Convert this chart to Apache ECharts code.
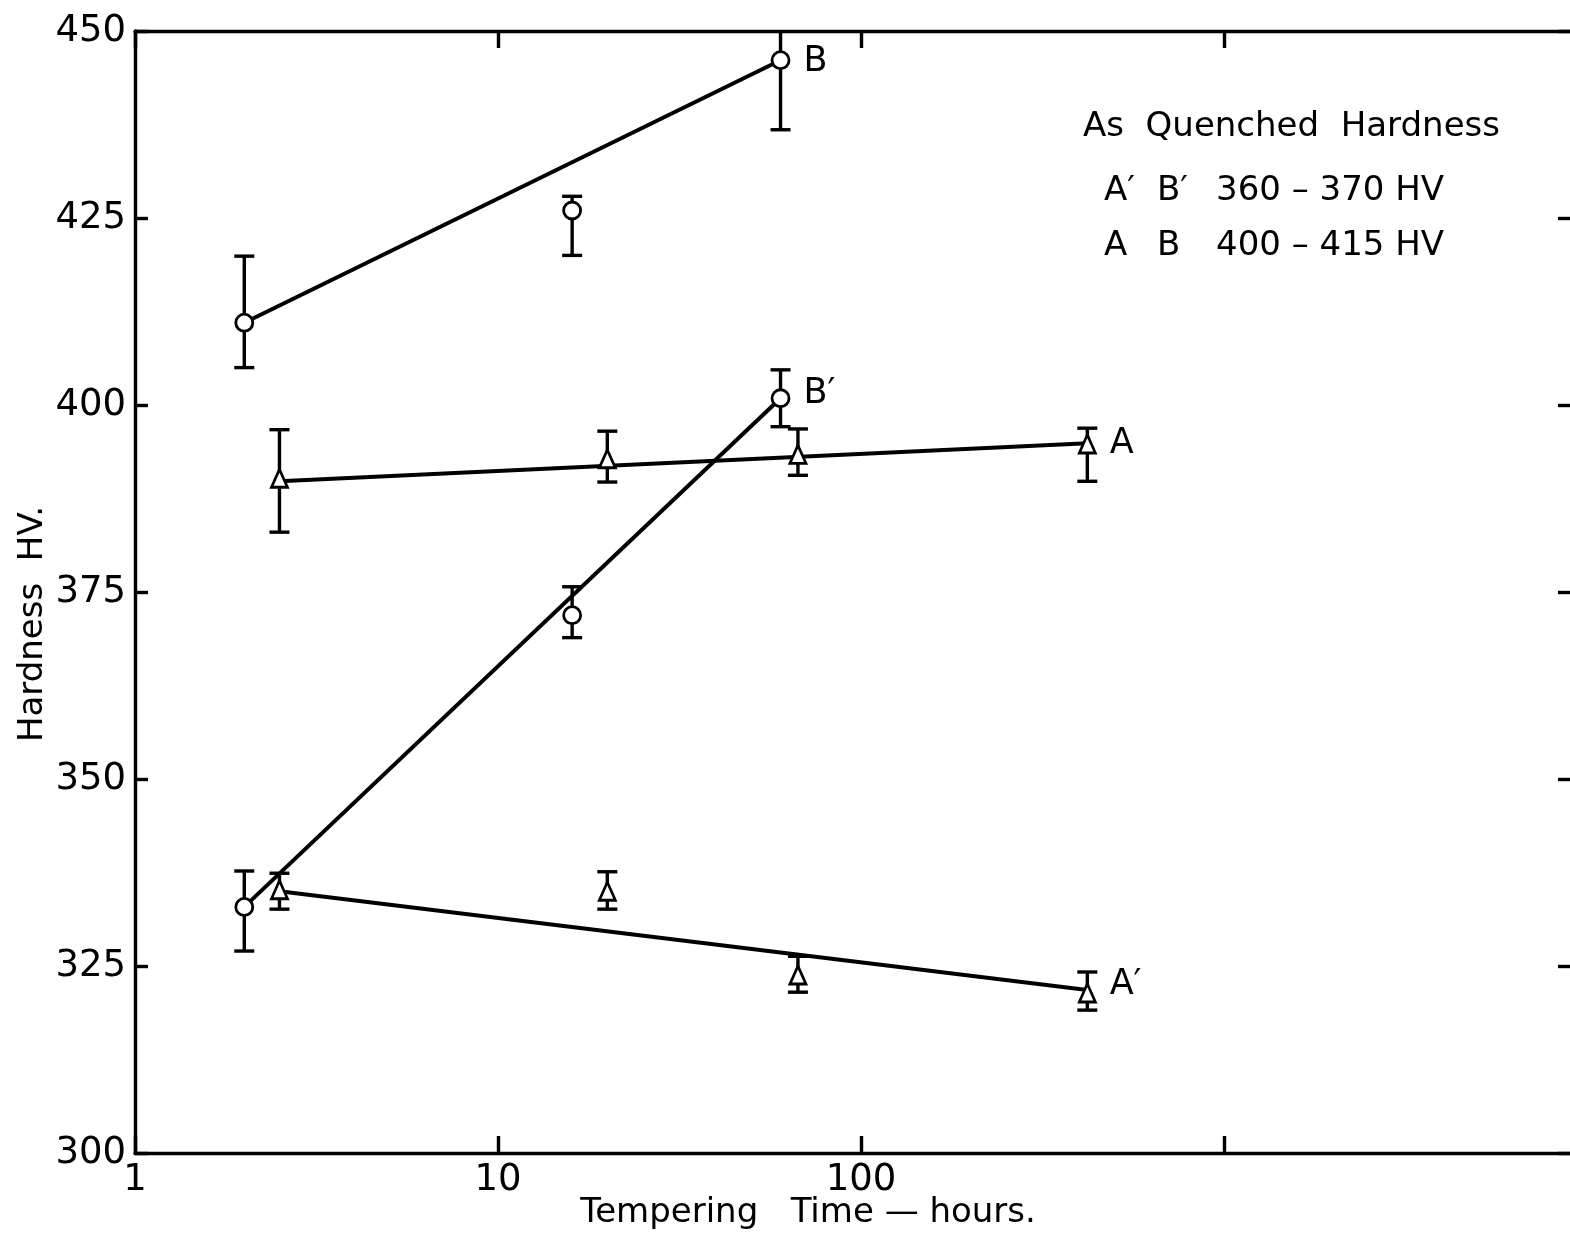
<!DOCTYPE html>
<html>
<head>
<meta charset="utf-8">
<script src="https://cdn.jsdelivr.net/npm/echarts@6/dist/echarts.min.js"></script>
<style>
  html, body { margin: 0; padding: 0; background: #fff; overflow: hidden; }
  #chart { width: 1578px; height: 1235px; }
</style>
</head>
<body>
<div id="chart"></div>
<script>
const FONT = 'DejaVu Sans';
const INK = '#000';

// Steel A (as quenched 400-415 HV): tempering time in hours, hardness HV, scatter band
const hoursA = [2.5, 20, 67, 420];
const hardA  = [390.2, 392.8, 393.4, 394.8];
const lowA   = [383.0, 389.7, 390.6, 389.8];
const highA  = [396.7, 396.5, 396.8, 396.9];

// Steel A' (as quenched 360-370 HV)
const hoursA2 = [2.5, 20, 67, 420];
const hardA2  = [335.2, 335.0, 323.8, 321.4];
const lowA2   = [332.6, 332.6, 321.5, 319.1];
const highA2  = [337.4, 337.6, 326.3, 324.2];

// Steel B (as quenched 400-415 HV)
const hoursB = [2, 16, 60];
const hardB  = [411.0, 426.0, 446.1];
const lowB   = [405.0, 420.0, 436.8];
const highB  = [419.9, 427.9, 456.0];

// Steel B' (as quenched 360-370 HV)
const hoursB2 = [2, 16, 60];
const hardB2  = [332.9, 371.9, 400.9];
const lowB2   = [327.0, 368.9, 397.1];
const highB2  = [337.7, 375.7, 404.7];

// Trend lines drawn through each set: [start, end] as [hours, HV]
const trendA  = [[2.5, 389.8], [420, 394.9]];
const trendA2 = [[2.5, 335.0], [420, 321.8]];
const trendB  = [[2, 411.0], [60, 446.1]];
const trendB2 = [[2, 332.9], [60, 400.9]];

// Axis ranges and labelled ticks
const timeMin = 1, timeMax = 9200;
const hvMin = 300, hvMax = 450, hvStep = 25;
const timeLabels = [1, 10, 100];

const chart = echarts.init(document.getElementById('chart'), null, { renderer: 'canvas' });

const axisLine = { show: true, lineStyle: { color: INK, width: 3.4 } };

function errorBars(hours, low, high) {
  return {
    type: 'custom',
    xAxisIndex: 0, yAxisIndex: 0,
    clip: true,
    z: 3,
    silent: true,
    data: hours.map((h, i) => [h, low[i], high[i]]),
    renderItem(params, api) {
      const lo = api.coord([api.value(0), api.value(1)]);
      const hi = api.coord([api.value(0), api.value(2)]);
      const w = 10;
      const style = { stroke: INK, lineWidth: 3.4, fill: null };
      return {
        type: 'group',
        children: [
          { type: 'line', shape: { x1: lo[0], y1: lo[1], x2: hi[0], y2: hi[1] }, style },
          { type: 'line', shape: { x1: lo[0] - w, y1: lo[1], x2: lo[0] + w, y2: lo[1] }, style },
          { type: 'line', shape: { x1: hi[0] - w, y1: hi[1], x2: hi[0] + w, y2: hi[1] }, style }
        ]
      };
    }
  };
}

function points(hours, hard, symbol, size, tag, tagOffset) {
  return {
    type: 'scatter',
    xAxisIndex: 0, yAxisIndex: 0,
    symbol,
    symbolSize: size,
    z: 5,
    itemStyle: { color: '#fff', borderColor: INK, borderWidth: 2.8, opacity: 1 },
    data: hours.map((h, i) => {
      const item = { value: [h, hard[i]] };
      if (i === hours.length - 1) {
        item.label = {
          show: true, formatter: tag, position: 'right', distance: 13,
          offset: tagOffset,
          fontFamily: FONT, fontSize: 35, color: INK
        };
      }
      return item;
    })
  };
}

function trend(data) {
  return {
    type: 'line',
    xAxisIndex: 0, yAxisIndex: 0,
    data,
    symbol: 'none',
    z: 2,
    lineStyle: { color: INK, width: 4 },
    silent: true
  };
}

const textStyle = (size) => ({ fontFamily: FONT, fontSize: size, fill: INK, verticalAlign: 'middle' });

const option = {
  animation: false,
  backgroundColor: '#fff',
  grid: { left: 135, top: 31, right: 4, bottom: 82, containLabel: false },
  xAxis: [
    {
      type: 'log', logBase: 10, min: timeMin, max: timeMax, position: 'bottom',
      axisLine,
      axisTick: { show: true, inside: true, length: 17, lineStyle: { color: INK, width: 3.4 } },
      splitLine: { show: false },
      minorTick: { show: false },
      axisLabel: {
        show: true, margin: 9,
        fontFamily: FONT, fontSize: 37, color: INK,
        formatter: v => timeLabels.some(t => Math.abs(t - v) < 1e-6 * t) ? String(Math.round(v)) : ''
      }
    },
    {
      type: 'log', logBase: 10, min: timeMin, max: timeMax, position: 'top',
      axisLine,
      axisTick: { show: true, inside: true, length: 17, lineStyle: { color: INK, width: 3.4 } },
      splitLine: { show: false },
      axisLabel: { show: false }
    }
  ],
  yAxis: [
    {
      type: 'value', min: hvMin, max: hvMax, interval: hvStep, position: 'left',
      axisLine,
      axisTick: { show: true, inside: true, length: 13, lineStyle: { color: INK, width: 3.4 } },
      splitLine: { show: false },
      axisLabel: { show: true, margin: 9, fontFamily: FONT, fontSize: 37, color: INK }
    },
    {
      type: 'value', min: hvMin, max: hvMax, interval: hvStep, position: 'right',
      axisLine,
      axisTick: { show: true, inside: true, length: 16, lineStyle: { color: INK, width: 3.4 } },
      splitLine: { show: false },
      axisLabel: { show: false }
    }
  ],
  graphic: [
    {
      type: 'text', x: 33, y: 624, rotation: Math.PI / 2,
      style: Object.assign(textStyle(34), { text: 'Hardness  HV.', align: 'center' })
    },
    {
      type: 'text', x: 808, y: 1213,
      style: Object.assign(textStyle(34), { text: 'Tempering   Time — hours.', align: 'center' })
    },
    { type: 'text', x: 1083, y: 127, style: Object.assign(textStyle(34), { text: 'As  Quenched  Hardness' }) },
    { type: 'text', x: 1104, y: 191, style: Object.assign(textStyle(34), { text: 'A′' }) },
    { type: 'text', x: 1157, y: 191, style: Object.assign(textStyle(34), { text: 'B′' }) },
    { type: 'text', x: 1216, y: 191, style: Object.assign(textStyle(34), { text: '360 – 370 HV' }) },
    { type: 'text', x: 1104, y: 246, style: Object.assign(textStyle(34), { text: 'A' }) },
    { type: 'text', x: 1157, y: 246, style: Object.assign(textStyle(34), { text: 'B' }) },
    { type: 'text', x: 1216, y: 246, style: Object.assign(textStyle(34), { text: '400 – 415 HV' }) }
  ],
  series: [
    trend(trendA), trend(trendA2), trend(trendB), trend(trendB2),
    errorBars(hoursA, lowA, highA),
    errorBars(hoursA2, lowA2, highA2),
    errorBars(hoursB, lowB, highB),
    errorBars(hoursB2, lowB2, highB2),
    points(hoursA, hardA, 'triangle', [16, 18], 'A', [0, 0]),
    points(hoursA2, hardA2, 'triangle', [16, 18], 'A′', [0, -8]),
    points(hoursB, hardB, 'circle', 17, 'B', [0, 2]),
    points(hoursB2, hardB2, 'circle', 17, 'B′', [0, -4])
  ]
};

chart.setOption(option);
</script>
</body>
</html>
